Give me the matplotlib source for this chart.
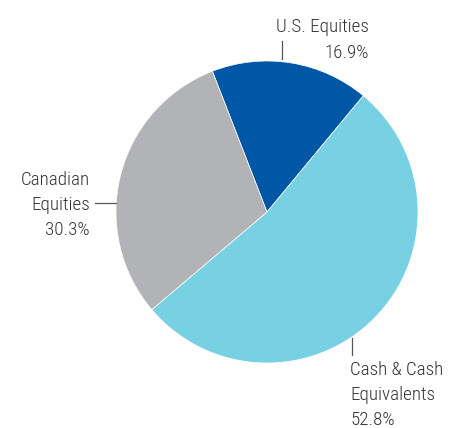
import numpy as np
import matplotlib.pyplot as plt

# Datos del gráfico
categorias = ["U.S. Equities", "Cash & Cash\nEquivalents", "Canadian\nEquities"]
valores = [16.9, 52.8, 30.3]
colores = ["#0057A6", "#78D0E3", "#B2B3B6"]

fuente = ["Roboto Condensed", "Roboto", "DejaVu Sans"]
color_texto = "#333333"

fig = plt.figure(figsize=(4.59, 4.28), dpi=100)
ax = fig.add_axes([0, 0, 1, 1])

# pie en coordenadas de píxel (y hacia arriba)
cx, cy, r = 267, 428 - 212, 151
ax.pie(valores, colors=colores, startangle=111.2, counterclock=False,
       center=(cx, cy), radius=r,
       wedgeprops=dict(edgecolor="white", linewidth=0.5))
ax.set_xlim(0, 459)
ax.set_ylim(0, 428)
ax.set_aspect("equal")
ax.axis("off")

fs = 13.7
estilo = dict(fontsize=fs, family=fuente, fontweight="light", color=color_texto, linespacing=1.52)

# U.S. Equities
ax.text(369, 428 - 40, f"{categorias[0]}\n{valores[0]:.1f}%", ha="right", va="center", **estilo)
ax.plot([282, 282], [428 - 41, 428 - 59], color="#555555", lw=0.9)

# Canadian Equities
ax.text(90, 428 - 205, f"{categorias[2]}\n{valores[2]:.1f}%", ha="right", va="center", **estilo)
ax.plot([95, 116], [428 - 203, 428 - 203], color="#555555", lw=0.9)

# Cash & Cash Equivalents
ax.text(350, 428 - 395, f"{categorias[1]}\n{valores[1]:.1f}%", ha="left", va="center", **estilo)
ax.plot([352, 352], [428 - 338, 428 - 355], color="#555555", lw=0.9)

fig.savefig("out.png", dpi=100)
